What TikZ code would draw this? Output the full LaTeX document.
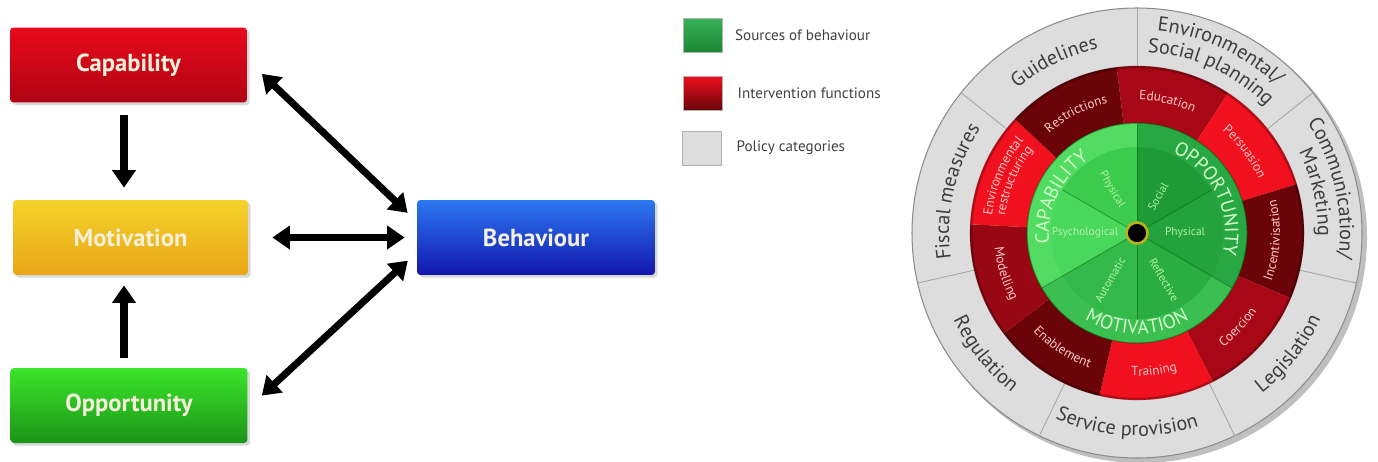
\documentclass[tikz,border=0pt]{standalone}
\usepackage{fontspec}
\setmainfont{PT Sans}
\usetikzlibrary{arrows.meta,positioning,shadows,decorations.text}

% cores
\definecolor{capTop}{HTML}{E80A1C}
\definecolor{capBot}{HTML}{B00414}
\definecolor{motTop}{HTML}{F4D32A}
\definecolor{motBot}{HTML}{E9A517}
\definecolor{oppTop}{HTML}{3BE52A}
\definecolor{oppBot}{HTML}{1C9418}
\definecolor{behTop}{HTML}{2C78F0}
\definecolor{behBot}{HTML}{1216AE}
\definecolor{boxtext}{HTML}{F4F0DC}
\definecolor{polgrey}{HTML}{DDDDDD}
\definecolor{poltext}{HTML}{3C3C3C}
\definecolor{redA}{HTML}{F0101E}
\definecolor{redB}{HTML}{A80816}
\definecolor{redM}{HTML}{980814}
\definecolor{redD}{HTML}{6A0409}
\definecolor{inttext}{HTML}{FFC9C9}
\definecolor{capA}{HTML}{3DCB4E}
\definecolor{capB}{HTML}{4AD85C}
\definecolor{capband}{HTML}{52DC62}
\definecolor{oppA}{HTML}{1E9A37}
\definecolor{oppB}{HTML}{24A33D}
\definecolor{oppband}{HTML}{28A842}
\definecolor{motA}{HTML}{2AAE41}
\definecolor{motB}{HTML}{33B94A}
\definecolor{motband}{HTML}{3ABF50}
\definecolor{srctext}{HTML}{D4FFCC}
\definecolor{subtext}{HTML}{B2F2A8}
\definecolor{dotring}{HTML}{B8B21E}
\definecolor{legGreen}{HTML}{22A844}

\newcommand\polfont{\fontsize{11.5}{13}\selectfont\color{poltext}}
\newcommand\intfont{\fontsize{7.5}{9}\selectfont\color{inttext}}
\newcommand\srcfont{\fontsize{11}{13}\selectfont\color{srctext}}

\begin{document}
\begin{tikzpicture}[x=0.02cm, y=0.02cm,
    srcbox/.style={rectangle, rounded corners=2pt, minimum width=4.74cm, minimum height=1.5cm,
      text=boxtext, font=\fontsize{14}{16}\selectfont\bfseries,
      drop shadow={opacity=0.3, shadow xshift=1.5pt, shadow yshift=-1.5pt}},
    onearrow/.style={line width=4pt, -{Triangle[length=10pt,width=13pt]}},
    bigarrow/.style={line width=4pt, {Triangle[length=10pt,width=13pt]}-{Triangle[length=10pt,width=13pt]}},
    legbox/.style={minimum width=0.78cm, minimum height=0.68cm, inner sep=0pt, draw=black!30, line width=0.4pt},
    legtext/.style={font=\fontsize{8.6}{10}\selectfont, text=black!75, inner sep=0pt, anchor=west},
    subsrc/.style={font=\fontsize{6.5}{7}\selectfont, text=subtext, inner sep=0pt},
  ]
  \useasboundingbox (0,0) rectangle (1378,461);

  % --- modelo COM-B ---
  \node[srcbox, top color=capTop, bottom color=capBot] (cap) at (128.5,396) {Capability};
  \node[srcbox, top color=motTop, bottom color=motBot, minimum width=4.7cm] (mot) at (130.5,223.5) {Motivation};
  \node[srcbox, top color=oppTop, bottom color=oppBot] (opp) at (129,55.5) {Opportunity};
  \node[srcbox, top color=behTop, bottom color=behBot, minimum width=4.76cm] (beh) at (536,223.5) {Behaviour};

  \draw[onearrow, shorten <=0.24cm, shorten >=0.24cm]
    ([xshift=-0.09cm]cap.south) -- ([xshift=-0.09cm]cap.south |- mot.north);
  \draw[onearrow, shorten <=0.2cm, shorten >=0.2cm]
    ([xshift=-0.1cm]opp.north) -- ([xshift=-0.1cm]opp.north |- mot.south);
  \draw[bigarrow, shorten <=0.48cm, shorten >=0.24cm] (mot.east) -- (beh.west);
  \draw[bigarrow, shorten <=0.4cm, shorten >=0.25cm] ([yshift=0.1cm]cap.east) -- ([yshift=0.32cm]beh.west);
  \draw[bigarrow, shorten <=0.38cm, shorten >=0.24cm] ([yshift=-0.06cm]opp.east) -- ([yshift=-0.3cm]beh.west);

  % --- legenda ---
  \node[legbox, top color=legGreen!90!white, bottom color=legGreen!80!black] (lgsrc) at (703,425.5) {};
  \node[legbox, top color=redA, bottom color=redD] (lgint) at (702.5,368) {};
  \node[legbox, fill=polgrey] (lgpol) at (701.5,313) {};
  \node[legtext, right=0.24cm of lgsrc] (lgsrctxt) {Sources of behaviour};
  \node[legtext, right=0.3cm of lgint] (lginttxt) {Intervention functions};
  \node[legtext, right=0.3cm of lgpol] (lgpoltxt) {Policy categories};

  % --- roda da mudanca de comportamento ---
  \begin{scope}[shift={(1137,228)}]
    \fill[black, opacity=0.25] (4,-4) circle (226);
    \filldraw[fill=polgrey, draw=black!45, line width=0.6pt] (0,0) circle (225);
    \foreach \k in {0,...,6}
      \draw[black!35, line width=0.5pt] ({90-\k*360/7}:160) -- ({90-\k*360/7}:225);

    % funcoes de intervencao
    \foreach \a/\col in {57/redB, 17/redA, -23/redD, -63/redB, -103/redA, -143/redD, 177/redM, 137/redA, 97/redD}
      \fill[\col] (\a:108) arc[start angle=\a, delta angle=40, radius=108]
        -- ({\a+40}:167) arc[start angle=\a+40, delta angle=-40, radius=167] -- cycle;
    \draw[black, opacity=0.25, line width=1.5pt] (0,0) circle (166);

    % fontes de comportamento
    \foreach \a/\col in {90/capband, -150/motband, -30/oppband}
      \fill[\col] (0,0) -- (\a:110) arc[start angle=\a, delta angle=120, radius=110] -- cycle;
    \foreach \a/\col in {90/capA, 150/capB, -150/motB, -90/motA, -30/oppB, 30/oppA}
      \fill[\col] (0,0) -- (\a:86) arc[start angle=\a, delta angle=60, radius=86] -- cycle;
    \foreach \a in {90,-150,-30}
      \draw[green!35!black, opacity=0.45, line width=0.5pt] (0,0) -- (\a:110);
    \foreach \a in {150,-90,30}
      \draw[green!35!black, opacity=0.45, line width=0.5pt] (0,0) -- (\a:86);
    \draw[green!30!black, opacity=0.4, line width=0.8pt] (0,0) circle (110);

    \node[circle, fill=black, draw=dotring, line width=1.5pt, minimum size=0.42cm, inner sep=0pt] (hub) at (0,0) {};

    \node[subsrc, rotate=-60] (physc) at (120:50) {Physical};
    \node[subsrc] (psych) at (180:52) {Psychological};
    \node[subsrc, rotate=60] (autom) at (-120:54) {Automatic};
    \node[subsrc, rotate=-60] (refl) at (-60:54) {Reflective};
    \node[subsrc] (physo) at (0:48) {Physical};
    \node[subsrc, rotate=60] (social) at (60:42) {Social};

    % rotulos curvos
    \foreach \ang/\rad/\txt in {155/88/CAPABILITY, 26/88/OPPORTUNITY}
      \path[decorate, decoration={text along path, text align=center,
          text/.expanded={|\noexpand\srcfont|\txt}}]
        ({\ang+60}:\rad) arc[start angle=\ang+60, end angle=\ang-60, radius=\rad];
    \path[decorate, decoration={text along path, text align=center, text={|\srcfont|MOTIVATION}}]
      (-150:101) arc[start angle=-150, end angle=-30, radius=101];

    \foreach \ang/\rad/\txt in {77/133/Education, 37/133/Persuasion, 117/133/Restrictions,
        157/146/Environmental, 157/133/restructuring}
      \path[decorate, decoration={text along path, text align=center,
          text/.expanded={|\noexpand\intfont|\txt}}]
        ({\ang+30}:\rad) arc[start angle=\ang+30, end angle=\ang-30, radius=\rad];
    \foreach \ang/\rad/\txt in {-3/143/Incentivisation, -43/143/Coercion, -83/143/Training,
        -123/143/Enablement, -163/143/Modelling}
      \path[decorate, decoration={text along path, text align=center,
          text/.expanded={|\noexpand\intfont|\txt}}]
        ({\ang-30}:\rad) arc[start angle=\ang-30, end angle=\ang+30, radius=\rad];

    \foreach \ang/\rad/\txt in {115.71/188/Guidelines, 167.14/188/Fiscal measures,
        65.5/203/{Environmental/}, 65.5/181/Social planning,
        12.86/203/{Communication/}, 12.86/181/Marketing}
      \path[decorate, decoration={text along path, text align=center,
          text/.expanded={|\noexpand\polfont|\txt}}]
        ({\ang+50}:\rad) arc[start angle=\ang+50, end angle=\ang-50, radius=\rad];
    \foreach \ang/\rad/\txt in {-38.57/203/Legislation, -93/203/Service provision, -141.43/203/Regulation}
      \path[decorate, decoration={text along path, text align=center,
          text/.expanded={|\noexpand\polfont|\txt}}]
        ({\ang-50}:\rad) arc[start angle=\ang-50, end angle=\ang+50, radius=\rad];
  \end{scope}
\end{tikzpicture}
\end{document}
